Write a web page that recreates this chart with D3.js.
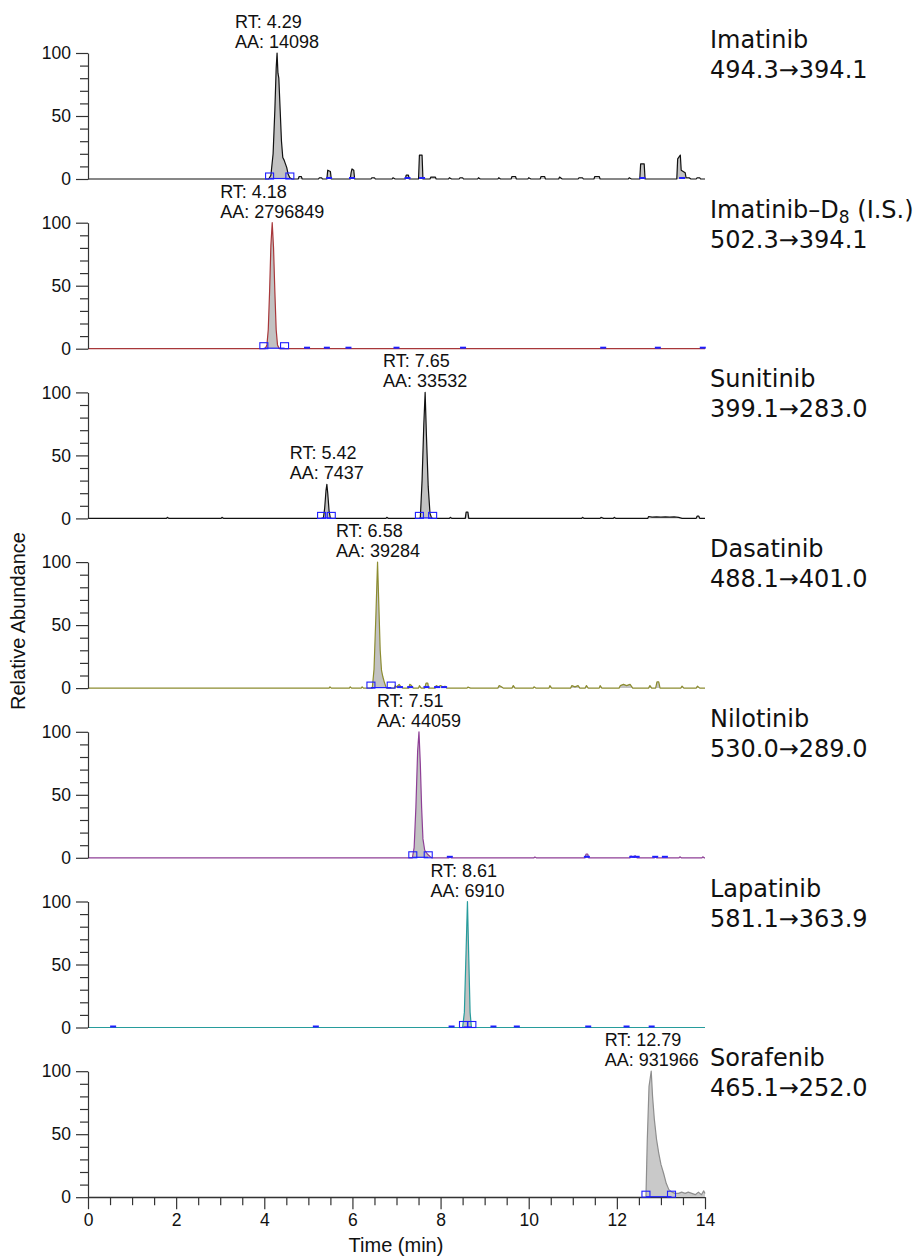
<!DOCTYPE html>
<html>
<head>
<meta charset="utf-8">
<script src="https://cdn.jsdelivr.net/npm/d3@7"></script>
<style>
  body { margin: 0; background: #fff; }
</style>
</head>
<body>
<svg id="chart" width="920" height="1256"></svg>
<script>
// Compounds (top to bottom) and their MRM transitions
const compounds = ["Imatinib", "Imatinib–D8 (I.S.)", "Sunitinib", "Dasatinib", "Nilotinib", "Lapatinib", "Sorafenib"];
const transitions = ["494.3→394.1", "502.3→394.1", "399.1→283.0", "488.1→401.0", "530.0→289.0", "581.1→363.9", "465.1→252.0"];

// Trace colours
const traceColors = ["#111111", "#a8373a", "#111111", "#8c8c30", "#8e3f96", "#279c9c", "#8e8e8e"];

// Chromatograms: [time (min), relative abundance (%)]
const imatinib = [[0,0],[4.10,0],[4.15,3],[4.20,20],[4.24,55],[4.27,88],[4.29,100],[4.31,84],[4.33,80],[4.36,55],[4.39,30],[4.42,17],[4.45,15],[4.48,12],[4.51,9],[4.54,4],[4.58,1],[4.63,0],[4.77,0],[4.79,2],[4.84,2],[4.86,0],[5.23,0],[5.25,1],[5.30,1],[5.32,0],[5.42,0],[5.44,7],[5.50,6],[5.52,0],[5.95,0],[5.97,5],[5.99,8],[6.03,7],[6.05,0],[6.42,0],[6.44,1],[6.50,1],[6.52,0],[6.90,0],[6.92,1],[6.97,0],[7.20,0],[7.22,3],[7.27,3],[7.29,0],[7.50,0],[7.52,19],[7.58,19],[7.60,0],[7.76,0],[7.78,1.5],[7.88,1.5],[7.90,0],[8.18,0],[8.20,1],[8.25,0],[8.42,0],[8.44,1],[8.50,1],[8.52,0],[8.84,0],[8.86,1],[8.90,0],[9.30,0],[9.32,1],[9.36,0],[9.60,0],[9.62,2],[9.70,2],[9.72,0],[9.98,0],[10.00,1],[10.05,0],[10.26,0],[10.28,2],[10.36,2],[10.38,0],[10.68,0],[10.70,1.5],[10.76,0],[11.12,0],[11.14,1],[11.22,1],[11.24,0],[11.48,0],[11.50,2],[11.60,2],[11.62,0],[12.26,0],[12.28,1],[12.33,0],[12.52,0],[12.54,12],[12.62,12],[12.64,0],[13.36,0],[13.38,16],[13.44,19],[13.46,7],[13.55,5],[13.57,1],[13.64,1],[13.68,0],[13.80,0],[13.82,1],[13.88,1],[13.90,0],[14,0]];
const imatinibD8 = [[0,0],[4.02,0],[4.06,3],[4.09,15],[4.12,45],[4.15,82],[4.18,100],[4.21,80],[4.24,45],[4.27,15],[4.30,3],[4.34,0],[14,0]];
const sunitinib = [[0,0],[1.78,0],[1.80,0.8],[1.84,0],[3.02,0],[3.04,0.8],[3.08,0],[5.34,0],[5.37,8],[5.40,22],[5.42,27],[5.44,20],[5.47,6],[5.50,0],[6.76,0],[6.78,0.8],[6.82,0],[7.54,0],[7.58,30],[7.62,75],[7.65,100],[7.68,65],[7.72,25],[7.76,4],[7.80,0],[8.20,0],[8.22,0.8],[8.26,0],[8.56,0],[8.58,5],[8.62,5],[8.64,0],[11.20,0],[11.22,0.8],[11.26,0],[11.62,0],[11.64,0.8],[11.70,0],[11.92,0],[11.94,0.8],[11.98,0],[12.70,0],[12.72,1.5],[12.80,1],[12.90,1.2],[13.00,1],[13.10,1.2],[13.20,1],[13.30,1.2],[13.40,0.8],[13.48,0],[13.80,0],[13.82,1.8],[13.86,1.8],[13.88,0],[14,0]];
const dasatinib = [[0,0],[5.47,0],[5.49,1],[5.52,0],[5.93,0],[5.95,1],[5.98,0],[6.20,0],[6.22,1],[6.25,0],[6.45,0],[6.49,15],[6.53,55],[6.57,100],[6.60,65],[6.63,30],[6.66,14],[6.69,9],[6.73,4],[6.77,0],[6.95,0],[6.97,2],[7.00,1],[7.06,3],[7.10,1],[7.14,0],[7.28,0],[7.30,3],[7.34,2],[7.38,0],[7.50,0],[7.52,2],[7.56,0],[7.64,0],[7.67,4],[7.71,4],[7.73,0],[7.88,0],[7.90,2],[7.95,1],[8.00,2],[8.05,1],[8.10,1.5],[8.14,0],[8.60,0],[8.62,0.8],[8.68,0],[9.30,0],[9.33,2],[9.38,1],[9.42,0],[9.62,0],[9.65,2],[9.69,0],[10.10,0],[10.12,1],[10.16,0],[10.46,0],[10.48,2],[10.52,0],[10.95,0],[10.98,2],[11.05,1],[11.12,2],[11.16,0],[11.28,0],[11.31,2],[11.35,0],[11.60,0],[11.62,2],[11.66,0],[12.05,0],[12.08,2],[12.15,3],[12.22,2],[12.30,3],[12.36,0],[12.72,0],[12.75,2],[12.79,0],[12.88,0],[12.91,5],[12.95,5],[12.98,0],[13.45,0],[13.48,1.5],[13.52,0],[13.80,0],[13.83,1.5],[13.88,0],[14,0]];
const nilotinib = [[0,0],[7.36,0],[7.40,8],[7.44,40],[7.48,85],[7.51,100],[7.54,75],[7.57,40],[7.60,15],[7.64,6],[7.70,3],[7.76,1],[7.80,0],[8.19,0],[8.21,0.8],[8.24,0],[10.12,0],[10.14,0.6],[10.17,0],[11.28,0],[11.30,3],[11.34,3],[11.36,0],[12.30,0],[12.32,1.5],[12.36,0.5],[12.42,1.5],[12.46,0],[12.85,0],[12.87,0.8],[12.90,0],[13.41,0],[13.43,0.8],[13.46,0],[13.93,0],[13.95,0.8],[13.98,0],[14,0]];
const lapatinib = [[0,0],[8.50,0],[8.54,12],[8.58,62],[8.61,100],[8.64,55],[8.67,12],[8.70,0],[14,0]];
const sorafenib = [[0,0],[12.66,0],[12.69,45],[12.73,88],[12.78,100],[12.81,80],[12.85,62],[12.90,46],[12.95,35],[13.00,26],[13.06,19],[13.12,11],[13.18,6],[13.25,4],[13.32,3],[13.40,3],[13.47,4],[13.55,3],[13.62,4],[13.70,3],[13.78,2],[13.85,4],[13.92,2],[13.97,5],[14,3]];
const traces = [imatinib, imatinibD8, sunitinib, dasatinib, nilotinib, lapatinib, sorafenib];

// Peak annotations (retention time, area)
const peakLabels = [
  [{ rt: 4.29, aa: 14098 }],
  [{ rt: 4.18, aa: 2796849 }],
  [{ rt: 5.42, aa: 7437 }, { rt: 7.65, aa: 33532 }],
  [{ rt: 6.58, aa: 39284 }],
  [{ rt: 7.51, aa: 44059 }],
  [{ rt: 8.61, aa: 6910 }],
  [{ rt: 12.79, aa: 931966 }]
];

// Integration start/end markers (blue boxes) and other detected-peak marks
const peakBounds = [
  [[4.12, 4.58]],
  [[3.99, 4.46]],
  [[5.30, 5.52], [7.52, 7.82]],
  [[6.42, 6.88]],
  [[7.37, 7.72]],
  [[8.52, 8.71]],
  [[12.66, 13.24]]
];
const minorMarks = [
  [5.47, 5.99, 7.25, 7.58, 12.58, 13.48],
  [4.97, 5.42, 5.91, 7.00, 8.51, 11.69, 12.93, 13.95],
  [],
  [7.08, 7.31, 7.68, 7.92, 8.08],
  [8.21, 11.32, 12.35, 12.45, 12.87, 13.09],
  [0.57, 5.17, 8.25, 9.20, 9.73, 11.35, 12.22, 12.79],
  []
];

// Tick values
const xTickLabels = [0, 2, 4, 6, 8, 10, 12, 14];
const xMinorTicks = [0.5, 1, 1.5, 2.5, 3, 3.5, 4.5, 5, 5.5, 6.5, 7, 7.5, 8.5, 9, 9.5, 10.5, 11, 11.5, 12.5, 13, 13.5];
const yTickLabels = [0, 50, 100];
const yMinorTicks = [10, 20, 30, 40, 60, 70, 80, 90];

// Layout
const svg = d3.select("#chart");
const sans = "'Liberation Sans', Arial, Helvetica, sans-serif";
const x = d3.scaleLinear().domain([0, 14]).range([88, 705]);
const panelH = 126;
const panelTop = i => 53 + i * 169.7;
const y = d3.scaleLinear().domain([0, 100]).range([panelH, 0]);
const axisColor = "#333";
const blue = "#1f1fff";

function styleAxis(sel) {
  sel.selectAll("path, line").attr("stroke", axisColor).attr("stroke-width", 1.2);
  sel.selectAll("text").attr("fill", "#111").style("font-family", sans).style("font-size", "17.5px");
}

traces.forEach((pts, i) => {
  const g = svg.append("g").attr("transform", `translate(0,${panelTop(i)})`);
  const last = i === traces.length - 1;

  // filled area under trace
  g.append("path")
    .datum(pts)
    .attr("d", d3.area().x(d => x(d[0])).y0(y(0)).y1(d => y(d[1])))
    .attr("fill", last ? "#c9c9c9" : "#c2c2c2");

  // trace line
  g.append("path")
    .datum(pts)
    .attr("d", d3.line().x(d => x(d[0])).y(d => y(d[1])))
    .attr("fill", "none")
    .attr("stroke", traceColors[i])
    .attr("stroke-width", 1.2)
    .attr("stroke-linejoin", "round");

  // y axis
  const ya = g.append("g").attr("transform", "translate(88,0)")
    .call(d3.axisLeft(y).tickValues(yTickLabels).tickSize(12).tickSizeOuter(0).tickPadding(5));
  styleAxis(ya);
  const ym = g.append("g").attr("transform", "translate(88,0)")
    .call(d3.axisLeft(y).tickValues(yMinorTicks).tickSize(8).tickFormat(""));
  ym.select(".domain").remove();
  styleAxis(ym);

  // x axis only in last panel
  if (last) {
    const xa = g.append("g").attr("transform", `translate(0,${panelH})`)
      .call(d3.axisBottom(x).tickValues(xTickLabels).tickSize(12).tickSizeOuter(0).tickPadding(4));
    styleAxis(xa);
    const xm = g.append("g").attr("transform", `translate(0,${panelH})`)
      .call(d3.axisBottom(x).tickValues(xMinorTicks).tickSize(8).tickFormat(""));
    xm.select(".domain").remove();
    styleAxis(xm);
  }

  // integration markers
  peakBounds[i].forEach(b => {
    g.append("line")
      .attr("x1", x(b[0])).attr("x2", x(b[1]))
      .attr("y1", y(0) - 0.5).attr("y2", y(0) - 0.5)
      .attr("stroke", blue).attr("stroke-width", 1.2);
    b.forEach(t => {
      g.append("rect")
        .attr("x", x(t) - 4).attr("y", y(0) - 6)
        .attr("width", 8).attr("height", 6)
        .attr("fill", "none").attr("stroke", blue).attr("stroke-width", 1.1);
    });
  });
  minorMarks[i].forEach(t => {
    g.append("rect")
      .attr("x", x(t) - 3).attr("y", y(0) - 2)
      .attr("width", 6).attr("height", 2)
      .attr("fill", blue);
  });

  // peak annotations
  peakLabels[i].forEach(p => {
    const apex = d3.max(pts.filter(d => Math.abs(d[0] - p.rt) < 0.08), d => d[1]);
    const txt = g.append("text")
      .style("font-family", sans).style("font-size", "18px").attr("fill", "#111");
    const l1 = txt.append("tspan").attr("y", y(apex) - 25).text(`RT: ${p.rt.toFixed(2)}`);
    const l2 = txt.append("tspan").attr("y", y(apex) - 5).text(`AA: ${p.aa}`);
    const w = Math.max(l1.node().getComputedTextLength(), l2.node().getComputedTextLength());
    l1.attr("x", x(p.rt) - w / 2);
    l2.attr("x", x(p.rt) - w / 2);
  });

  // compound name and transition
  const name = g.append("text")
    .attr("x", 710).attr("y", -5)
    .style("font-family", "'DejaVu Sans', sans-serif").style("font-size", "24px").attr("fill", "#111");
  const m = compounds[i].match(/^(.*D)(8)(.*)$/);
  if (m) {
    name.append("tspan").text(m[1]);
    name.append("tspan").attr("dy", 5).style("font-size", "17px").text(m[2]);
    name.append("tspan").attr("dy", -5).text(m[3]);
  } else {
    name.text(compounds[i]);
  }
  g.append("text")
    .attr("x", 710).attr("y", 25)
    .style("font-family", "'DejaVu Sans', sans-serif").style("font-size", "24px").attr("fill", "#111")
    .text(transitions[i]);
});

// axis titles
svg.append("text")
  .attr("transform", "translate(25,621) rotate(-90)")
  .attr("text-anchor", "middle")
  .style("font-family", sans).style("font-size", "20px").attr("fill", "#111")
  .text("Relative Abundance");

svg.append("text")
  .attr("x", 396).attr("y", 1252)
  .attr("text-anchor", "middle")
  .style("font-family", sans).style("font-size", "20px").attr("fill", "#111")
  .text("Time (min)");
</script>
</body>
</html>
